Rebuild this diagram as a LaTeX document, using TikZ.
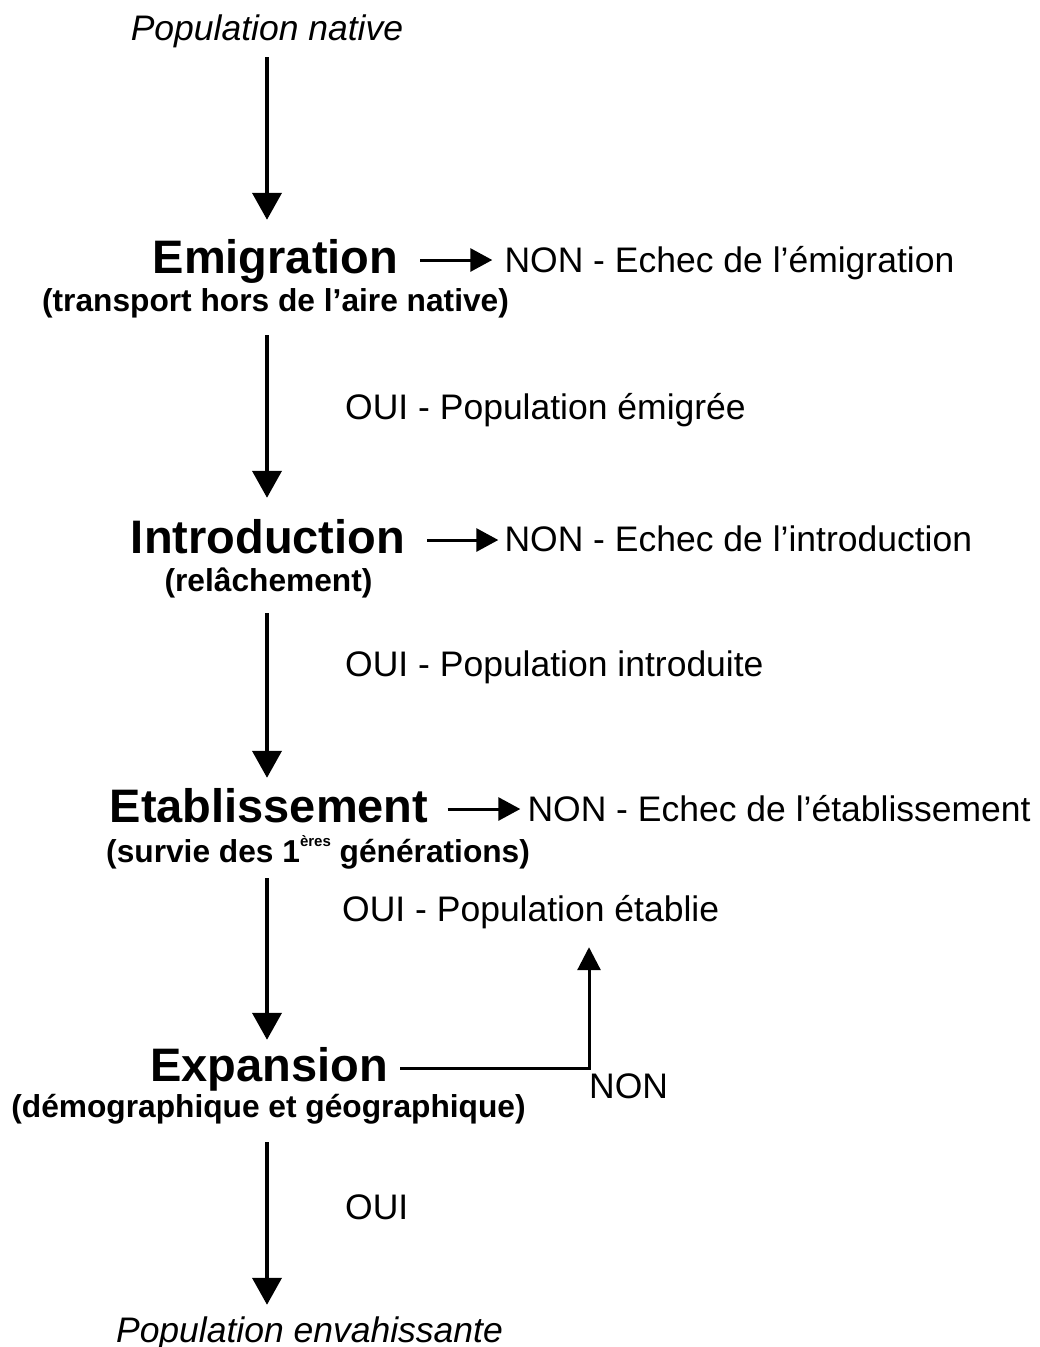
\documentclass[tikz,border=0pt]{standalone}
\usepackage{fontspec}
\setmainfont{Liberation Sans}
\usepackage{tikz}
\usetikzlibrary{arrows.meta}

\begin{document}
\begin{tikzpicture}[
  x=1pt, y=-1pt,
  stage/.style={font=\bfseries\fontsize{47}{50}\selectfont, inner sep=0pt, text height=36pt, text depth=10pt, anchor=base},
  detail/.style={font=\bfseries\fontsize{31.7}{34}\selectfont, inner sep=0pt, text height=24pt, text depth=8pt, anchor=base},
  answer/.style={font=\fontsize{35.5}{38}\selectfont, inner sep=0pt, text height=27pt, text depth=8pt, anchor=base west},
  pop/.style={font=\itshape\fontsize{35.5}{38}\selectfont, inner sep=0pt, text height=27pt, text depth=8pt, anchor=base},
  down/.style={line width=4pt, -{Triangle[length=27pt,width=29pt]}},
  side/.style={line width=3pt, -{Triangle[length=22pt,width=23pt]}}
]
  \useasboundingbox (0,0) rectangle (1040,1347);
  \coordinate (axis) at (267,0);

  \node[pop] (native) at (267,40) {Population native};

  \node[stage] (emig) at (275.5,273) {Emigration};
  \node[detail] (emigsub) at (275.5,311) {(transport hors de l’aire native)};
  \node[answer] (emignon) at (504.3,272) {NON - Echec de l’émigration};
  \node[answer] (emigoui) at (345,419) {OUI - Population émigrée};

  \node[stage] (intro) at (268,553) {Introduction};
  \node[detail] (introsub) at (268.5,591) {(relâchement)};
  \node[answer] (intronon) at (504.3,551) {NON - Echec de l’introduction};
  \node[answer] (introoui) at (345,676) {OUI - Population introduite};

  \node[stage] (etab) at (269,822) {Etablissement};
  \node[detail, anchor=base west] (etabsub) at (106,862) {(survie des 1\raisebox{16pt}{\fontsize{15}{15}\selectfont ères} générations)};
  \node[answer] (etabnon) at (527.3,821) {NON - Echec de l’établissement};
  \node[answer] (etaboui) at (342,921) {OUI - Population établie};

  \node[stage] (expan) at (269,1081) {Expansion};
  \node[detail] (expansub) at (268.5,1117) {(démographique et géographique)};
  \node[answer] (expannon) at (589,1098) {NON};
  \node[answer] (expanoui) at (345,1219) {OUI};

  \node[pop] (invasive) at (309.5,1342) {Population envahissante};

  % main sequence
  \draw[down, shorten <=9pt, shorten >=17pt] (native.south -| axis) -- (emig.north -| axis);
  \draw[down, shorten <=16pt, shorten >=19pt] (emigsub.south -| axis) -- (intro.north -| axis);
  \draw[down, shorten <=14pt, shorten >=8pt] (introsub.south -| axis) -- (etab.north -| axis);
  \draw[down, shorten <=8pt, shorten >=5pt] (etabsub.south -| axis) -- (expan.north -| axis);
  \draw[down, shorten <=17pt, shorten >=10pt] (expansub.south -| axis) -- (invasive.north -| axis);

  % failures
  \draw[side, shorten <=22pt, shorten >=12pt] (emig.east) -- (emig.east -| emignon.west);
  \draw[side, shorten <=22pt, shorten >=6pt] (intro.east) -- (intro.east -| intronon.west);
  \draw[side, shorten <=19pt, shorten >=7pt] (etab.east) -- (etab.east -| etabnon.west);
  \draw[line width=3pt, -{Triangle[length=23pt,width=23pt]}, shorten <=12pt, shorten >=18pt]
    (expan.east) -| (expannon.west |- etaboui.south);
\end{tikzpicture}
\end{document}
